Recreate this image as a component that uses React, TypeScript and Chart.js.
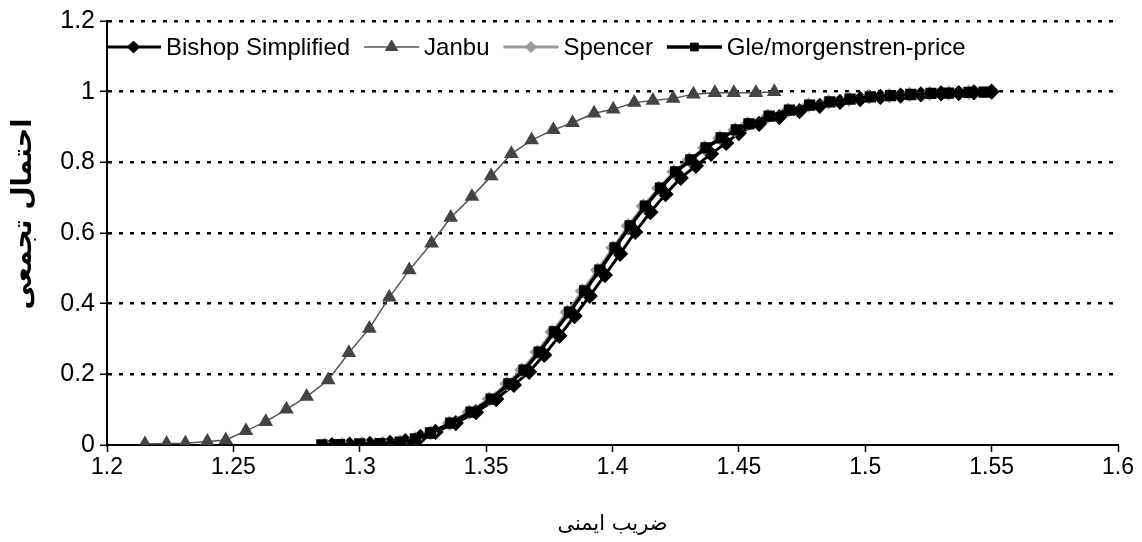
import React, { useEffect, useRef } from 'react';
import { Chart, registerables } from 'chart.js';
import { drawPoint } from 'chart.js/helpers';

Chart.register(...registerables);

// ---- Data ----
const bishopX = [1.289, 1.296, 1.304, 1.312, 1.318, 1.324, 1.33, 1.338, 1.346, 1.354, 1.361, 1.367, 1.373, 1.379, 1.385, 1.391, 1.397, 1.403, 1.409, 1.415, 1.421, 1.427, 1.433, 1.439, 1.445, 1.45, 1.458, 1.466, 1.474, 1.482, 1.49, 1.498, 1.506, 1.514, 1.522, 1.53, 1.537, 1.543, 1.55];
const bishopY = [0, 0.001, 0.003, 0.006, 0.011, 0.023, 0.037, 0.062, 0.093, 0.13, 0.17, 0.207, 0.255, 0.309, 0.365, 0.422, 0.481, 0.541, 0.603, 0.659, 0.71, 0.756, 0.79, 0.824, 0.855, 0.883, 0.909, 0.928, 0.945, 0.96, 0.971, 0.979, 0.985, 0.989, 0.992, 0.995, 0.996, 0.998, 1.0];

const janbuX = [1.215, 1.2236, 1.231, 1.2397, 1.247, 1.255, 1.2628, 1.271, 1.279, 1.2875, 1.2957, 1.3038, 1.3117, 1.3196, 1.3284, 1.336, 1.3444, 1.352, 1.36, 1.368, 1.3766, 1.3842, 1.3927, 1.4003, 1.4086, 1.416, 1.424, 1.432, 1.4405, 1.448, 1.4567, 1.464];
const janbuY = [0.003, 0.004, 0.005, 0.01, 0.014, 0.04, 0.066, 0.101, 0.137, 0.184, 0.261, 0.33, 0.418, 0.495, 0.571, 0.644, 0.703, 0.761, 0.824, 0.863, 0.892, 0.912, 0.939, 0.95, 0.969, 0.975, 0.981, 0.993, 0.997, 0.997, 0.997, 1.0];

const spencerX = [1.286, 1.293, 1.301, 1.309, 1.316, 1.322, 1.328, 1.3355, 1.3433, 1.3512, 1.3582, 1.3641, 1.3702, 1.3761, 1.3821, 1.3881, 1.3941, 1.4002, 1.4062, 1.4122, 1.4183, 1.4243, 1.4304, 1.4365, 1.4425, 1.4485, 1.4535, 1.4615, 1.4695, 1.4775, 1.4855, 1.4935, 1.5015, 1.5095, 1.5175, 1.5255, 1.533, 1.541];
const spencerY = [0, 0.001, 0.003, 0.004, 0.008, 0.017, 0.034, 0.062, 0.093, 0.13, 0.173, 0.212, 0.263, 0.32, 0.376, 0.436, 0.495, 0.558, 0.62, 0.676, 0.727, 0.773, 0.807, 0.841, 0.869, 0.892, 0.909, 0.931, 0.948, 0.962, 0.971, 0.979, 0.985, 0.989, 0.992, 0.995, 0.996, 0.998];

const gleX = [1.285, 1.292, 1.3, 1.308, 1.316, 1.322, 1.328, 1.336, 1.344, 1.352, 1.359, 1.365, 1.371, 1.377, 1.383, 1.389, 1.395, 1.401, 1.407, 1.413, 1.419, 1.425, 1.431, 1.437, 1.443, 1.449, 1.454, 1.462, 1.47, 1.478, 1.486, 1.494, 1.502, 1.51, 1.518, 1.526, 1.533, 1.541, 1.547];
const gleY = [0, 0.001, 0.003, 0.004, 0.008, 0.017, 0.034, 0.062, 0.093, 0.13, 0.173, 0.212, 0.263, 0.32, 0.376, 0.436, 0.495, 0.558, 0.62, 0.676, 0.727, 0.773, 0.807, 0.841, 0.869, 0.892, 0.909, 0.931, 0.948, 0.962, 0.971, 0.979, 0.985, 0.989, 0.992, 0.995, 0.996, 0.998, 0.999];

const seriesNames = ['Bishop Simplified', 'Janbu', 'Spencer', 'Gle/morgenstren-price'];
const xTickMin = 1.2;
const xTickMax = 1.6;
const xTickStep = 0.05;
const yTickMin = 0;
const yTickMax = 1.2;
const yTickStep = 0.2;
const xTitle = 'ضریب ایمنی';
const yTitle = 'احتمال تجمعی';

const toPoints = (xs: number[], ys: number[]) => xs.map((x, i) => ({ x, y: ys[i] }));

const FONT = '"Liberation Sans", Arial, Helvetica, sans-serif';
const ARABIC_FONT = '"DejaVu Sans", sans-serif';

const excelLegend = {
  id: 'excelLegend',
  afterDraw(chart: any) {
    const ctx = chart.ctx as CanvasRenderingContext2D;
    ctx.save();
    ctx.font = `24px ${FONT}`;
    ctx.textBaseline = 'middle';
    ctx.textAlign = 'left';
    const y = 47;
    let x = 106;
    const lineLen = 55;
    chart.data.datasets.forEach((ds: any) => {
      ctx.save();
      ctx.strokeStyle = ds.borderColor;
      ctx.lineWidth = ds.borderWidth;
      ctx.beginPath();
      ctx.moveTo(x, y);
      ctx.lineTo(x + lineLen, y);
      ctx.stroke();
      ctx.fillStyle = ds.pointBackgroundColor;
      ctx.strokeStyle = ds.pointBorderColor;
      ctx.lineWidth = 1;
      drawPoint(ctx, { pointStyle: ds.pointStyle, radius: ds.pointRadius, rotation: 0, borderWidth: 1 }, x + lineLen / 2, y);
      ctx.restore();
      ctx.fillStyle = '#000';
      ctx.fillText(ds.label, x + lineLen + 5, y + 1);
      x += lineLen + 5 + ctx.measureText(ds.label).width + 14;
    });
    ctx.restore();
  },
};

const yTitlePlugin = {
  id: 'yTitlePlugin',
  afterDraw(chart: any) {
    const ctx = chart.ctx as CanvasRenderingContext2D;
    ctx.save();
    ctx.translate(24, 214);
    ctx.rotate(-Math.PI / 2);
    ctx.font = `bold 27px ${ARABIC_FONT}`;
    ctx.fillStyle = '#000';
    ctx.textAlign = 'center';
    ctx.textBaseline = 'middle';
    ctx.fillText(yTitle, 0, 0);
    ctx.restore();
  },
};

export default function App() {
  const canvasRef = useRef<HTMLCanvasElement | null>(null);

  useEffect(() => {
    document.body.style.margin = '0';
    const canvas = canvasRef.current;
    if (!canvas) return;
    Chart.defaults.font.family = FONT;
    Chart.defaults.color = '#000';

    const chart = new Chart(canvas, {
      type: 'line',
      data: {
        datasets: [
          {
            label: seriesNames[0],
            data: toPoints(bishopX, bishopY),
            borderColor: '#000',
            borderWidth: 3,
            pointStyle: 'rectRot',
            pointRadius: 6,
            pointBackgroundColor: '#000',
            pointBorderColor: '#000',
            order: 4,
          },
          {
            label: seriesNames[1],
            data: toPoints(janbuX, janbuY),
            borderColor: '#555',
            borderWidth: 1.5,
            pointStyle: 'triangle',
            pointRadius: 7,
            pointBackgroundColor: '#444',
            pointBorderColor: '#444',
            order: 3,
          },
          {
            label: seriesNames[2],
            data: toPoints(spencerX, spencerY),
            borderColor: '#999',
            borderWidth: 3,
            pointStyle: 'rectRot',
            pointRadius: 5.5,
            pointBackgroundColor: '#999',
            pointBorderColor: '#999',
            order: 2,
          },
          {
            label: seriesNames[3],
            data: toPoints(gleX, gleY),
            borderColor: '#000',
            borderWidth: 3.5,
            pointStyle: 'rect',
            pointRadius: 5.5,
            pointBackgroundColor: '#000',
            pointBorderColor: '#000',
            order: 1,
          },
        ],
      },
      options: {
        responsive: false,
        animation: false,
        devicePixelRatio: 1,
        layout: { padding: { left: 0, right: 24, top: 21, bottom: 0 } },
        plugins: {
          legend: { display: false },
          tooltip: { enabled: false },
        },
        elements: { line: { tension: 0 }, point: { borderWidth: 1 } },
        scales: {
          x: {
            type: 'linear',
            min: xTickMin,
            max: xTickMax,
            afterFit: (scale: any) => { scale.height = 97; },
            ticks: {
              stepSize: xTickStep,
              autoSkip: false,
              maxRotation: 0,
              padding: 2,
              font: { size: 23, family: FONT },
              color: '#000',
              callback: (v: any) => String(Number(Number(v).toFixed(2))),
            },
            grid: {
              drawOnChartArea: false,
              drawTicks: true,
              tickLength: 7,
              tickColor: '#000',
              tickWidth: 1.5,
            },
            border: { display: true, color: '#000', width: 2 },
            title: {
              display: true,
              text: xTitle,
              font: { size: 21, family: ARABIC_FONT },
              color: '#000',
              padding: { top: 0, bottom: 5 },
            },
          },
          y: {
            type: 'linear',
            min: yTickMin,
            max: yTickMax,
            afterFit: (scale: any) => { scale.width = 107; },
            ticks: {
              stepSize: yTickStep,
              padding: 5,
              font: { size: 25, family: FONT },
              color: '#000',
              callback: (v: any) => String(Number(Number(v).toFixed(2))),
            },
            grid: {
              color: (c: any) => (c.tick && c.tick.value === 0 ? 'rgba(0,0,0,0)' : '#000'),
              lineWidth: 2.5,
              drawTicks: true,
              tickLength: 7,
              tickColor: '#000',
              tickWidth: 1.5,
            },
            border: { display: true, color: '#000', width: 2, dash: [4, 7] },
            title: { display: false },
          },
        },
      },
      plugins: [excelLegend, yTitlePlugin],
    } as any);

    return () => chart.destroy();
  }, []);

  return (
    <div style={{ width: 1142, height: 542 }}>
      <canvas ref={canvasRef} width={1142} height={542} style={{ display: 'block' }} />
    </div>
  );
}
